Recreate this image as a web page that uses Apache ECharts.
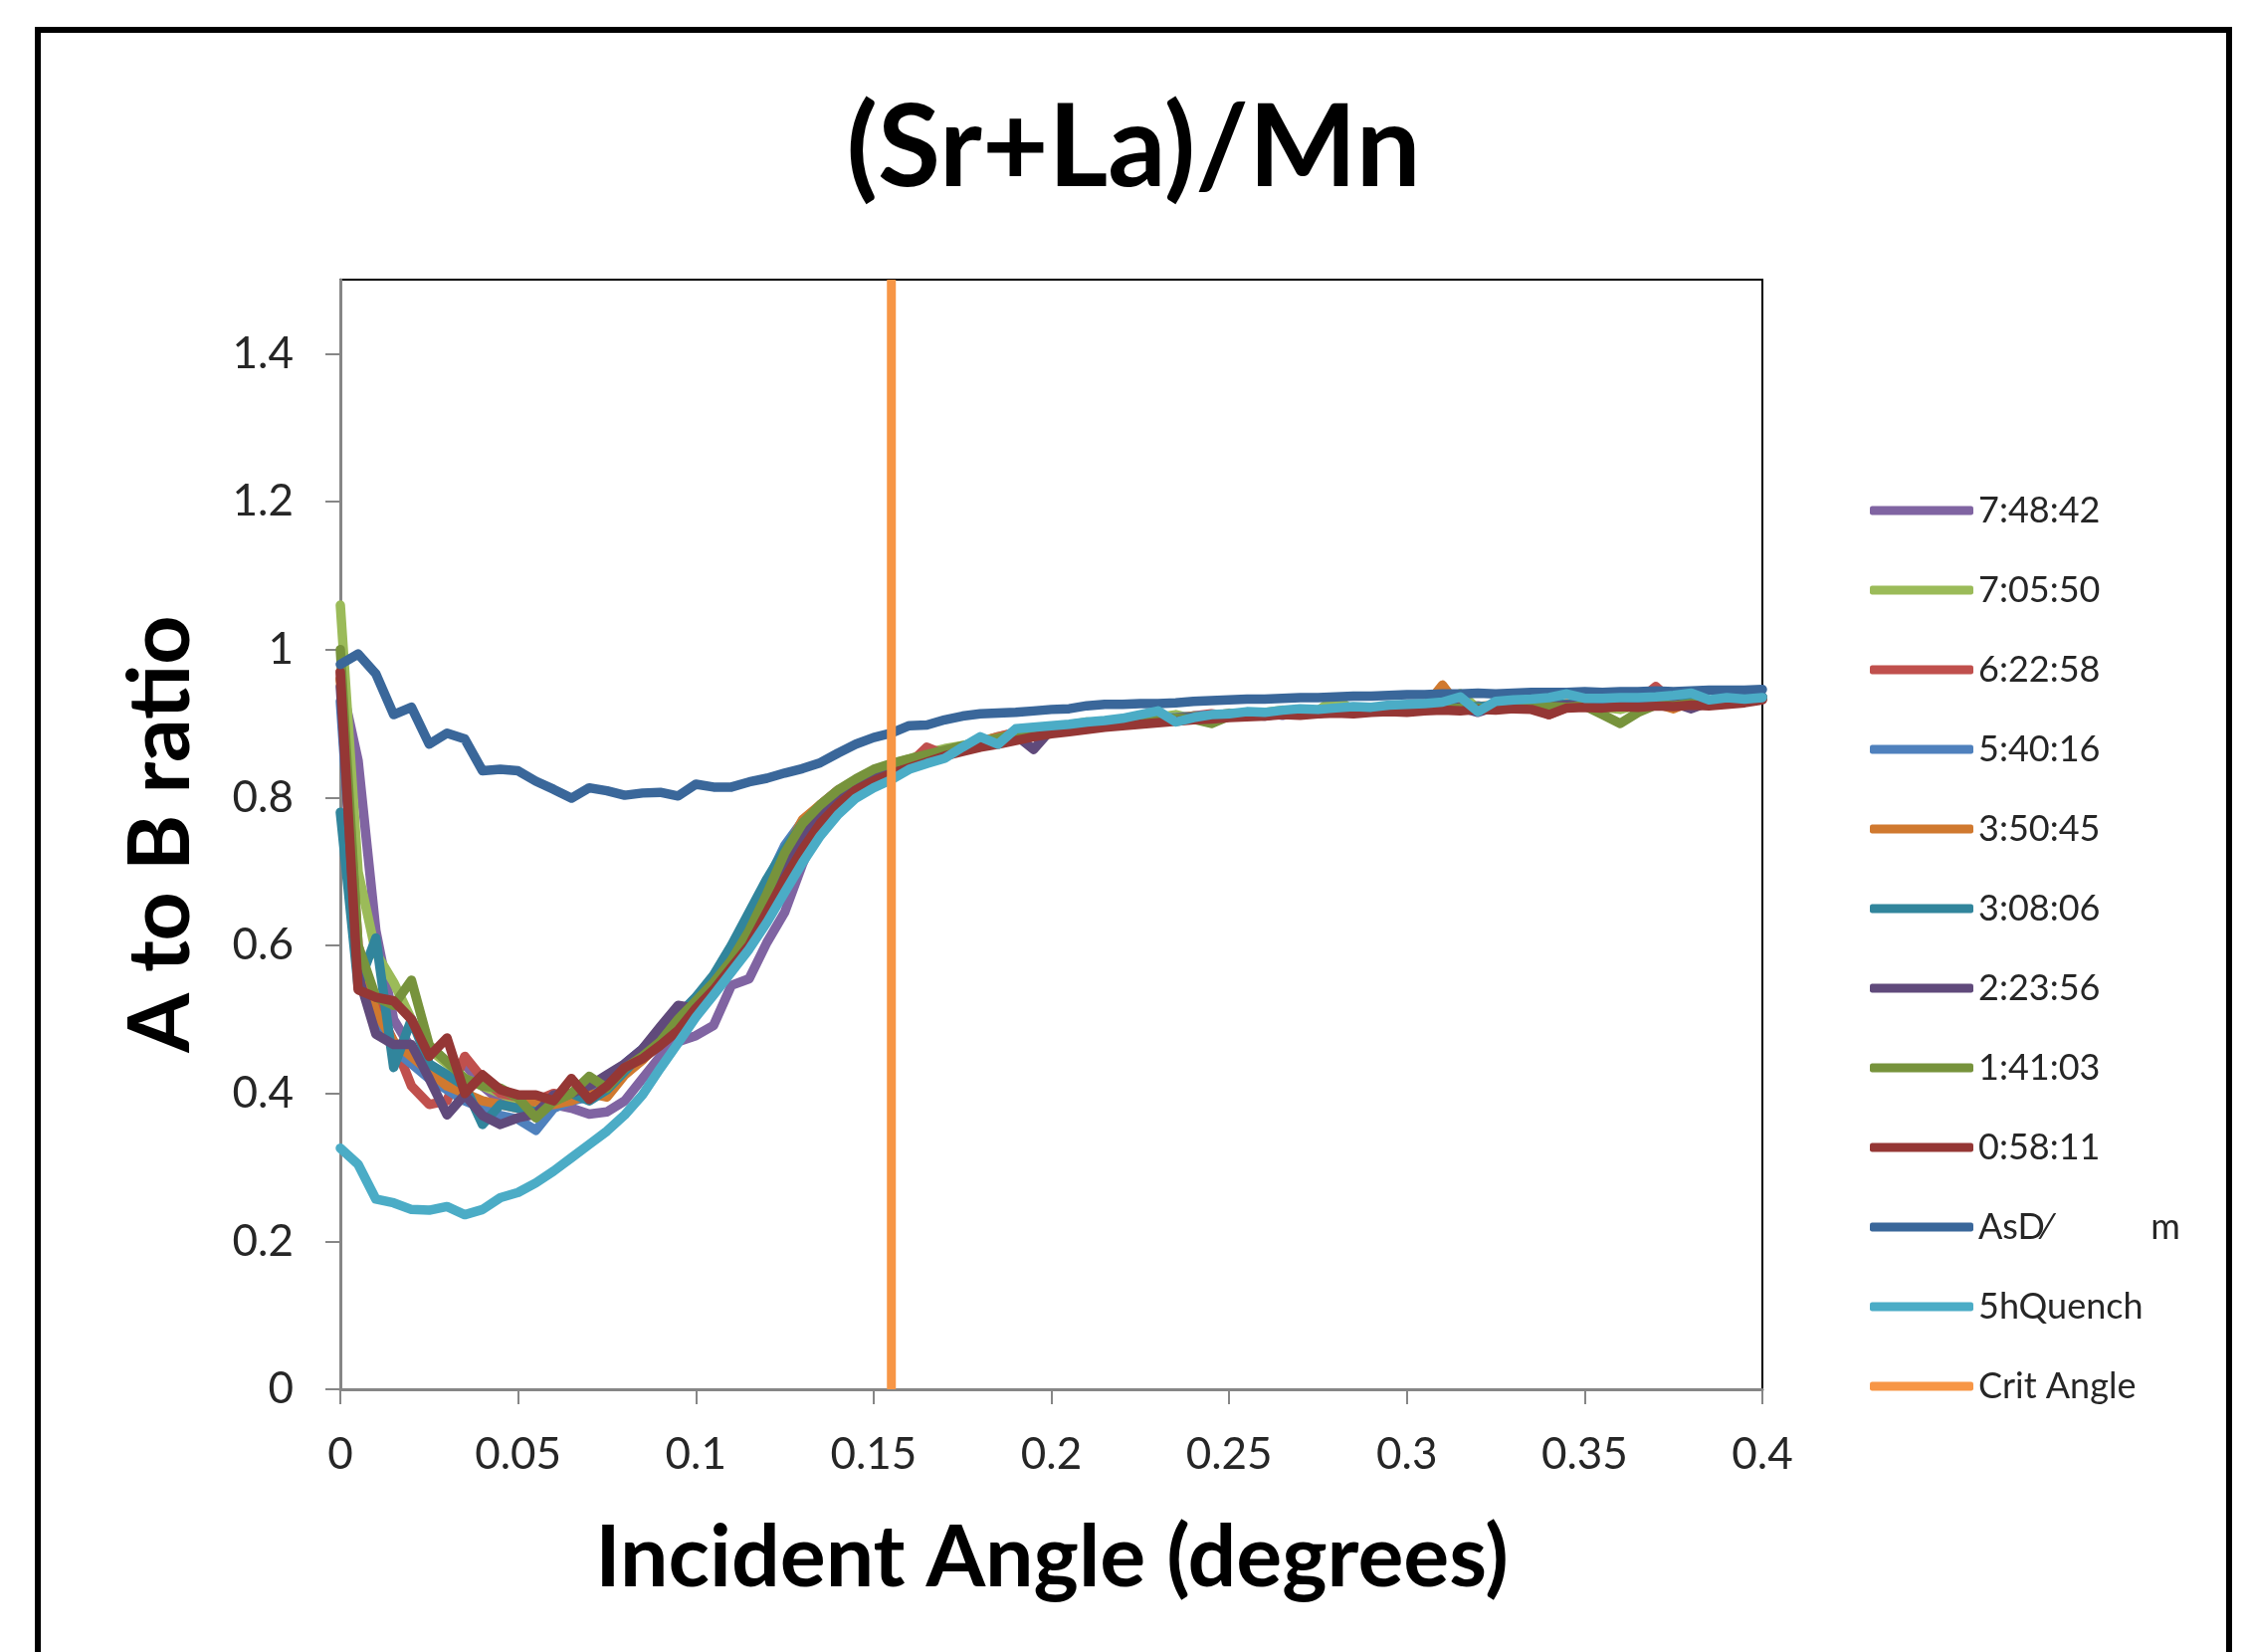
<!DOCTYPE html>
<html>
<head>
<meta charset="utf-8">
<script src="https://cdn.jsdelivr.net/npm/echarts@6/dist/echarts.min.js"></script>
<style>html,body{margin:0;padding:0;background:#fff}#c{width:2261px;height:1660px}</style>
</head>
<body>
<div id="c"></div>
<script>
// ---------- DATA ----------
const angles = [0,0.005,0.01,0.015,0.02,0.025,0.03,0.035,0.04,0.045,
  0.05,0.055,0.06,0.065,0.07,0.075,0.08,0.085,0.09,0.095,
  0.1,0.105,0.11,0.115,0.12,0.125,0.13,0.135,0.14,0.145,
  0.15,0.155,0.16,0.165,0.17,0.175,0.18,0.185,0.19,0.195,
  0.2,0.205,0.21,0.215,0.22,0.225,0.23,0.235,0.24,0.245,
  0.25,0.255,0.26,0.265,0.27,0.275,0.28,0.285,0.29,0.295,
  0.3,0.305,0.31,0.315,0.32,0.325,0.33,0.335,0.34,0.345,
  0.35,0.355,0.36,0.365,0.37,0.375,0.38,0.385,0.39,0.395,0.4];

const s074842 = [0.96,0.85,0.62,0.50,0.46,0.43,0.42,0.44,0.41,0.39,
  0.385,0.38,0.385,0.38,0.372,0.375,0.39,0.42,0.45,0.47,
  0.478,0.492,0.546,0.555,0.604,0.645,0.71,0.765,0.795,0.812,
  0.826,0.838,0.846,0.855,0.86,0.868,0.872,0.878,0.884,0.889,
  0.891,0.895,0.899,0.897,0.903,0.901,0.906,0.904,0.909,0.907,
  0.912,0.91,0.915,0.911,0.916,0.913,0.918,0.914,0.92,0.917,
  0.921,0.918,0.922,0.919,0.924,0.92,0.925,0.921,0.926,0.923,
  0.927,0.924,0.928,0.925,0.929,0.926,0.93,0.928,0.931,0.933,0.936];

const s070550 = [1.06,0.70,0.59,0.55,0.50,0.46,0.44,0.42,0.41,0.40,
  0.39,0.385,0.39,0.40,0.41,0.405,0.43,0.45,0.475,0.50,
  0.52,0.545,0.575,0.615,0.665,0.72,0.76,0.785,0.805,0.82,
  0.835,0.845,0.852,0.86,0.866,0.87,0.876,0.882,0.887,0.892,
  0.895,0.898,0.902,0.9,0.905,0.903,0.908,0.912,0.906,0.91,
  0.914,0.911,0.915,0.918,0.913,0.917,0.935,0.916,0.919,0.922,
  0.918,0.921,0.919,0.94,0.92,0.922,0.924,0.921,0.925,0.923,
  0.926,0.922,0.919,0.925,0.927,0.924,0.928,0.926,0.93,0.932,0.935];

const s062258 = [0.97,0.60,0.52,0.47,0.41,0.385,0.39,0.45,0.42,0.40,
  0.395,0.39,0.40,0.395,0.40,0.41,0.435,0.455,0.48,0.505,
  0.525,0.55,0.58,0.625,0.675,0.725,0.765,0.79,0.81,0.822,
  0.832,0.838,0.845,0.868,0.858,0.866,0.874,0.882,0.888,0.892,
  0.89,0.896,0.9,0.903,0.9,0.906,0.908,0.905,0.91,0.913,
  0.91,0.914,0.912,0.916,0.914,0.918,0.915,0.919,0.917,0.92,
  0.918,0.921,0.924,0.919,0.922,0.92,0.923,0.923,0.912,0.922,
  0.925,0.927,0.924,0.93,0.95,0.928,0.926,0.93,0.927,0.932,0.934];

const s054016 = [0.93,0.58,0.50,0.46,0.44,0.42,0.405,0.39,0.38,0.37,
  0.365,0.35,0.38,0.39,0.395,0.41,0.44,0.46,0.485,0.505,
  0.53,0.555,0.585,0.63,0.685,0.735,0.768,0.788,0.806,0.82,
  0.832,0.842,0.85,0.857,0.862,0.868,0.875,0.88,0.885,0.89,
  0.894,0.896,0.9,0.902,0.904,0.905,0.907,0.908,0.91,0.911,
  0.913,0.912,0.914,0.916,0.915,0.917,0.918,0.917,0.919,0.92,
  0.921,0.92,0.922,0.923,0.922,0.924,0.923,0.925,0.924,0.926,
  0.927,0.926,0.928,0.927,0.929,0.928,0.93,0.929,0.931,0.933,0.936];

const s035045 = [0.96,0.59,0.51,0.47,0.45,0.43,0.41,0.40,0.39,0.385,
  0.38,0.39,0.385,0.39,0.40,0.395,0.425,0.445,0.47,0.495,
  0.52,0.545,0.575,0.62,0.67,0.725,0.77,0.79,0.805,0.818,
  0.83,0.84,0.846,0.856,0.862,0.868,0.876,0.881,0.886,0.89,
  0.893,0.897,0.9,0.899,0.903,0.905,0.904,0.907,0.91,0.908,
  0.912,0.913,0.911,0.915,0.917,0.914,0.918,0.916,0.919,0.921,
  0.918,0.922,0.952,0.92,0.923,0.925,0.922,0.926,0.924,0.927,
  0.925,0.928,0.926,0.929,0.927,0.92,0.93,0.928,0.932,0.931,0.935];

const s030806 = [0.78,0.545,0.61,0.435,0.50,0.44,0.425,0.41,0.358,0.385,
  0.38,0.375,0.39,0.40,0.39,0.405,0.43,0.455,0.48,0.505,
  0.53,0.56,0.6,0.645,0.69,0.73,0.765,0.787,0.805,0.818,
  0.83,0.84,0.848,0.855,0.862,0.868,0.874,0.879,0.884,0.889,
  0.892,0.895,0.898,0.9,0.902,0.904,0.906,0.907,0.909,0.91,
  0.911,0.913,0.914,0.915,0.916,0.917,0.918,0.918,0.919,0.92,
  0.921,0.921,0.922,0.922,0.923,0.924,0.924,0.925,0.926,0.926,
  0.927,0.928,0.927,0.929,0.93,0.929,0.931,0.93,0.932,0.934,0.936];

const s022356 = [0.95,0.56,0.48,0.466,0.466,0.42,0.371,0.398,0.37,0.358,
  0.367,0.372,0.398,0.40,0.41,0.425,0.44,0.46,0.49,0.519,
  0.515,0.54,0.565,0.6,0.645,0.7,0.745,0.775,0.798,0.812,
  0.826,0.835,0.845,0.852,0.86,0.866,0.872,0.878,0.884,0.865,
  0.892,0.895,0.898,0.9,0.901,0.904,0.903,0.907,0.908,0.906,
  0.911,0.912,0.91,0.914,0.913,0.916,0.915,0.918,0.917,0.92,
  0.919,0.921,0.92,0.922,0.915,0.923,0.922,0.924,0.923,0.925,
  0.924,0.926,0.925,0.927,0.926,0.928,0.92,0.929,0.93,0.932,0.934];

const s014103 = [1.0,0.60,0.53,0.519,0.553,0.465,0.443,0.42,0.41,0.407,
  0.394,0.367,0.389,0.40,0.423,0.407,0.434,0.45,0.47,0.50,
  0.525,0.55,0.58,0.62,0.67,0.725,0.765,0.79,0.81,0.825,
  0.838,0.846,0.852,0.858,0.864,0.87,0.875,0.88,0.886,0.89,
  0.893,0.896,0.899,0.9,0.903,0.9,0.905,0.907,0.906,0.9,
  0.91,0.912,0.911,0.914,0.913,0.915,0.918,0.916,0.918,0.917,
  0.919,0.92,0.919,0.921,0.921,0.92,0.922,0.921,0.923,0.922,
  0.924,0.912,0.9,0.915,0.925,0.924,0.927,0.926,0.929,0.931,0.934];

const s005811 = [0.97,0.54,0.53,0.525,0.50,0.45,0.475,0.40,0.425,0.405,
  0.398,0.398,0.39,0.42,0.392,0.41,0.435,0.447,0.465,0.485,
  0.515,0.54,0.57,0.60,0.645,0.69,0.73,0.765,0.79,0.81,
  0.822,0.832,0.84,0.848,0.856,0.862,0.868,0.872,0.877,0.882,
  0.886,0.889,0.892,0.895,0.897,0.899,0.901,0.903,0.905,0.906,
  0.908,0.909,0.91,0.912,0.911,0.913,0.914,0.913,0.915,0.916,
  0.915,0.917,0.918,0.917,0.919,0.918,0.92,0.919,0.912,0.921,
  0.922,0.921,0.923,0.922,0.924,0.923,0.925,0.924,0.926,0.928,0.932];

const sAsD = [0.980,0.994,0.967,0.912,0.922,0.872,0.887,0.879,0.836,0.838,
  0.836,0.822,0.811,0.799,0.813,0.809,0.803,0.806,0.807,0.802,
  0.818,0.814,0.814,0.821,0.826,0.833,0.839,0.847,0.860,0.872,
  0.881,0.887,0.897,0.898,0.905,0.910,0.913,0.914,0.915,0.917,
  0.919,0.920,0.924,0.926,0.926,0.927,0.927,0.928,0.930,0.931,
  0.932,0.933,0.933,0.934,0.935,0.935,0.936,0.937,0.937,0.938,
  0.939,0.939,0.940,0.940,0.941,0.940,0.941,0.942,0.942,0.942,
  0.943,0.942,0.943,0.943,0.944,0.943,0.944,0.945,0.945,0.945,0.946];

const s5hQuench = [0.326,0.304,0.257,0.252,0.243,0.242,0.247,0.236,0.243,0.259,
  0.266,0.279,0.295,0.313,0.331,0.349,0.371,0.398,0.434,0.468,
  0.503,0.533,0.564,0.595,0.631,0.672,0.712,0.748,0.777,0.799,
  0.813,0.824,0.838,0.846,0.853,0.868,0.882,0.872,0.893,0.895,
  0.897,0.899,0.902,0.904,0.907,0.912,0.917,0.902,0.908,0.912,
  0.913,0.916,0.915,0.918,0.920,0.919,0.921,0.923,0.922,0.925,
  0.926,0.927,0.929,0.936,0.916,0.930,0.932,0.933,0.935,0.940,
  0.934,0.934,0.935,0.935,0.936,0.938,0.941,0.932,0.935,0.933,0.935];

const critAngle = 0.155;
const critSpan = [0, 1.5];

const xTicks = [0,0.05,0.1,0.15,0.2,0.25,0.3,0.35,0.4];
const yTicks = [0,0.2,0.4,0.6,0.8,1,1.2,1.4];

const seriesNames = ['7:48:42','7:05:50','6:22:58','5:40:16','3:50:45','3:08:06',
  '2:23:56','1:41:03','0:58:11','AsD\u2044           m','5hQuench'];
const seriesValues = [s074842,s070550,s062258,s054016,s035045,s030806,
  s022356,s014103,s005811,sAsD,s5hQuench];
const seriesColors = ['#8064A2','#9BBB59','#C0504D','#4F81BD','#D0792F','#31859C',
  '#604A7B','#77933C','#953735','#3A679A','#4BACC6'];
const critName = 'Crit Angle';
const critColor = '#F79646';

// ---------- CHART ----------
const FONT = 'Lato';
const chart = echarts.init(document.getElementById('c'), null, {renderer: 'canvas'});

const series = seriesValues.map((vals, k) => ({
  name: seriesNames[k],
  type: 'line',
  data: angles.map((a, i) => [a, vals[i]]),
  color: seriesColors[k],
  symbol: 'none',
  showSymbol: false,
  silent: true,
  lineStyle: {width: 9.5, color: seriesColors[k], join: 'round', cap: 'round'},
  emphasis: {disabled: true},
  z: 2 + k * 0.01
}));
series.push({
  name: critName,
  type: 'line',
  data: critSpan.map(v => [critAngle, v]),
  color: critColor,
  symbol: 'none',
  showSymbol: false,
  silent: true,
  lineStyle: {width: 9, color: critColor, cap: 'butt'},
  emphasis: {disabled: true},
  z: 3
});

const legendLH = 40;
chart.setOption({
  animation: false,
  backgroundColor: '#ffffff',
  grid: {left: 342, top: 281, width: 1429, height: 1115, show: true,
         borderColor: '#000000', borderWidth: 2, backgroundColor: 'transparent'},
  xAxis: {
    type: 'value', min: 0, max: 0.4, interval: 0.05,
    axisLine: {show: true, onZero: false, lineStyle: {color: '#868686', width: 3}},
    axisTick: {show: true, inside: false, length: 15, lineStyle: {color: '#868686', width: 2}, customValues: xTicks},
    axisLabel: {fontFamily: FONT, fontSize: 44, color: '#262626', margin: 44, customValues: xTicks},
    splitLine: {show: false}
  },
  yAxis: {
    type: 'value', min: 0, max: 1.5, interval: 0.2,
    axisLine: {show: true, onZero: false, lineStyle: {color: '#868686', width: 3}},
    axisTick: {show: true, inside: false, length: 15, lineStyle: {color: '#868686', width: 2}, customValues: yTicks},
    axisLabel: {fontFamily: FONT, fontSize: 44, color: '#262626', margin: 47, customValues: yTicks},
    splitLine: {show: false}
  },
  legend: {
    orient: 'vertical', left: 1874, top: 508 - legendLH / 2,
    itemWidth: 104, itemHeight: 9, itemGap: 80 - legendLH,
    icon: 'roundRect', selectedMode: false,
    textStyle: {fontFamily: FONT, fontSize: 36, color: '#262626', lineHeight: legendLH},
    data: seriesNames.concat([critName])
  },
  graphic: [
    {type: 'rect', silent: true, shape: {x: 38, y: 30, width: 2202, height: 1700},
     style: {fill: 'none', stroke: '#000000', lineWidth: 6}},
    {type: 'text', silent: true, x: 1139, y: 150,
     style: {text: '(Sr+La)/Mn', fontFamily: FONT, fontWeight: 'bold', fontSize: 115,
             fill: '#000000', align: 'center', verticalAlign: 'middle'}},
    {type: 'text', silent: true, x: 1057, y: 1566,
     style: {text: 'Incident Angle (degrees)', fontFamily: FONT, fontWeight: 'bold', fontSize: 86,
             fill: '#000000', align: 'center', verticalAlign: 'middle'}},
    {type: 'text', silent: true, x: 162, y: 838, rotation: Math.PI / 2,
     style: {text: 'A to B ratio', fontFamily: FONT, fontWeight: 'bold', fontSize: 86,
             fill: '#000000', align: 'center', verticalAlign: 'middle'}}
  ],
  series: series
});
</script>
</body>
</html>
